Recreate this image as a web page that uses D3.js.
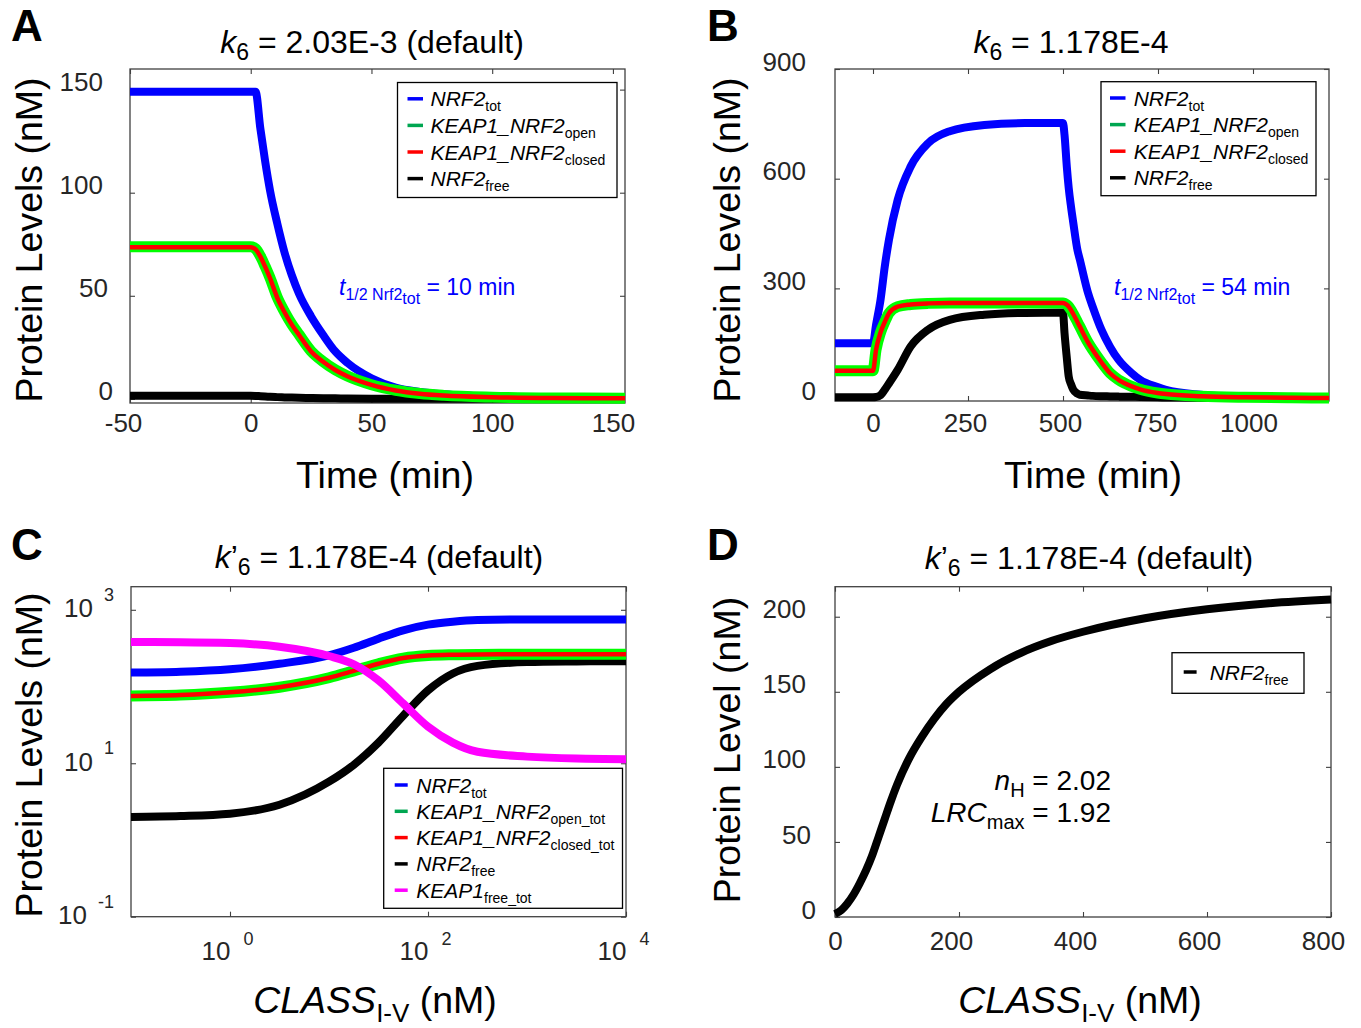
<!DOCTYPE html>
<html>
<head>
<meta charset="utf-8">
<script src="https://cdn.jsdelivr.net/npm/d3@7"></script>
<style>
  body { margin: 0; background: #fff; }
  svg text { font-family: "Liberation Sans", Arial, Helvetica, sans-serif; white-space: pre; }
</style>
</head>
<body>
<script>
// ---------- Panel A: time course, k6 = 2.03E-3 ----------
const timeA      = [-50, 0, 2, 4, 6, 8, 11, 14, 17, 20, 25, 30, 35, 40, 50, 60, 70, 80, 100, 125, 155];
const nrf2TotA   = [149, 149, 149, 131, 115, 101, 85, 71, 60, 51, 40, 31, 23, 17.5, 10, 5.5, 3.4, 2.2, 1.0, 0.5, 0.3];
const openA      = [73.8, 73.8, 72.8, 69.2, 64.2, 58.7, 49.2, 42.2, 36.2, 31.2, 23.2, 18.1, 14.1, 11.1, 6.9, 4.2, 2.6, 1.7, 0.85, 0.45, 0.35];
const closedA    = [73.5, 73.5, 72.5, 69, 64, 58.5, 49, 42, 36, 31, 23, 18, 14, 11, 6.8, 4.1, 2.5, 1.6, 0.8, 0.4, 0.3];
const freeA      = [1.5, 1.5, 1.45, 1.3, 1.15, 1.0, 0.85, 0.72, 0.62, 0.53, 0.42, 0.33, 0.26, 0.2, 0.12, 0.07, 0.04, 0.03, 0.01, 0, 0];
const xTicksA    = [-50, 0, 50, 100, 150];
const yTicksA    = [0, 50, 100, 150];

// ---------- Panel B: time course, k6 = 1.178E-4 ----------
const timeB      = [-100, 0, 8, 20, 31, 42, 65, 99, 145, 202, 293, 400, 500, 504, 510, 515, 521, 527, 538, 544, 566, 578, 601, 624, 646, 681, 703, 749, 771, 863, 977, 1100, 1200];
const nrf2TotB   = [150, 150, 200, 270, 360, 433, 542, 633, 697, 730, 747, 752, 752, 720, 633, 575, 524, 480, 405, 380, 287, 250, 187, 140, 105, 68, 50, 30, 22.7, 9, 3, 1.2, 0.6];
const openB      = [75, 75, 132, 180, 208, 232, 250, 256, 259, 260, 260, 260, 260, 259, 255, 250, 241, 230, 208, 196, 152, 132, 98, 68, 50, 32, 24, 14, 11, 5, 2, 0.8, 0.4];
const closedB    = [75, 75, 132, 180, 208, 232, 250, 256, 259, 260, 260, 260, 260, 259, 255, 250, 241, 230, 208, 196, 152, 132, 98, 68, 50, 32, 24, 14, 11, 5, 2, 0.8, 0.4];
const freeB      = [2.5, 2.5, 3, 8, 23, 40, 77, 141, 187, 214, 228, 233, 234, 178, 110, 59, 38, 23, 12, 9, 7, 6, 5, 4.5, 4, 3.5, 3, 2, 1.8, 1.2, 0.8, 0.5, 0.4];
const xTicksB    = [0, 250, 500, 750, 1000];
const yTicksB    = [0, 300, 600, 900];

// ---------- Panel C: steady state vs CLASS I-V (log-log) ----------
const classC     = [0.1, 0.316, 1, 3.16, 10, 17.8, 31.6, 56.2, 100, 178, 316, 1000, 3162, 10000];
const nrf2TotC   = [152, 156, 168, 198, 255, 320, 420, 540, 640, 700, 735, 748, 750, 750];
const openC      = [75.5, 77.5, 84, 98, 130, 160, 198, 235, 254, 260, 262, 263, 263, 263];
const closedC    = [75.5, 77.5, 84, 98, 130, 160, 198, 235, 254, 260, 262, 263, 263, 263];
const freeC      = [2.0, 2.05, 2.2, 2.88, 5.75, 9.55, 18.6, 41.7, 89, 148, 186, 208, 212, 214];
const keap1C     = [380, 378, 368, 330, 250, 195, 120, 60, 30, 18.6, 14.1, 12.2, 11.5, 11.3];
const xTicksC    = [1, 100, 10000];
const yTicksC    = [0.1, 10, 1000];

// ---------- Panel D: NRF2free vs CLASS I-V (linear) ----------
const classD     = [0, 10, 20, 30, 40, 50, 60, 70, 80, 90, 100, 120, 140, 160, 180, 200, 250, 300, 350, 400, 500, 600, 700, 800];
const freeD      = [2, 4.5, 9, 15, 22.5, 31, 41, 53, 65, 77, 88, 106, 120, 132, 142, 150, 165, 176, 184, 190, 199, 205, 209, 211.5];
const xTicksD    = [0, 200, 400, 600, 800];
const yTicksD    = [0, 50, 100, 150, 200];

// ---------- styling ----------
const C_BLUE = "#0000ff", C_GREEN = "#00ff00", C_RED = "#ff0000", C_BLACK = "#000000", C_MAG = "#ff00ff";
const C_GREEN_KEY = "#00a651";
const AXIS = "#404040", TICK = "#262626";
const LABEL_SIZE = 37.5, TITLE_SIZE = 32;

const svg = d3.select("body").append("svg").attr("width", 1361).attr("height", 1028);

// text built from pieces: italics, subscripts, superscripts
function richText(parent, x, y, parts, opt) {
  const t = parent.append("text").attr("x", x).attr("y", y)
    .attr("font-size", opt.size).attr("fill", opt.fill || "#000")
    .attr("text-anchor", opt.anchor || "start");
  if (opt.transform) t.attr("transform", opt.transform);
  let cur = 0;
  parts.forEach(p => {
    const shift = p.shift || 0;
    const ts = t.append("tspan").attr("dy", shift - cur).text(p.t);
    cur = shift;
    if (p.size) ts.attr("font-size", p.size);
    if (p.it) ts.attr("font-style", "italic");
    if (p.dx) ts.attr("dx", p.dx);
  });
  return t;
}

function styleAxis(sel) {
  sel.select(".domain").remove();
  sel.selectAll(".tick line").attr("stroke", AXIS).attr("stroke-width", 1.1);
  sel.selectAll(".tick text").attr("font-size", 26).attr("fill", TICK)
    .style("font-family", '"Liberation Sans", Arial, Helvetica, sans-serif');
}

// axes box with inward ticks on all four sides
function frameAxes(g, f, x, y, o) {
  const bottom = g.append("g").attr("transform", `translate(0,${f.b})`)
    .call(d3.axisBottom(x).tickValues(o.xTicks).tickSize(-5).tickPadding(0)
      .tickFormat(o.log ? () => "" : d => String(d)));
  styleAxis(bottom);
  if (!o.log) {
    bottom.selectAll(".tick text").attr("dy", null).attr("y", o.xLabY)
      .attr("dx", d => (d < 0 ? -7 : 0) - (String(d).length - 1) * (o.xLabShift || 0));
  }
  const top = g.append("g").attr("transform", `translate(0,${f.t})`)
    .call(d3.axisTop(x).tickValues(o.xTicks).tickSize(-5).tickFormat(() => ""));
  styleAxis(top);
  const left = g.append("g").attr("transform", `translate(${f.l},0)`)
    .call(d3.axisLeft(y).tickValues(o.yTicks).tickSize(-5).tickPadding(0)
      .tickFormat(o.log ? () => "" : d => String(d)));
  styleAxis(left);
  if (!o.log) {
    left.selectAll(".tick text")
      .attr("x", d => -o.yLabGap + (3 - String(d).length) * 5)
      .attr("y", -8).attr("dy", "0.35em");
  }
  const right = g.append("g").attr("transform", `translate(${f.r},0)`)
    .call(d3.axisRight(y).tickValues(o.yTicks).tickSize(-5).tickFormat(() => ""));
  styleAxis(right);

  if (o.log) {
    // power-of-ten labels: "10" with a raised exponent
    left.selectAll(".tick").each(function (d) {
      const e = Math.round(Math.log10(d));
      richText(d3.select(this), -17, 7,
        [{ t: "10" }, { t: String(e), size: 18, shift: -16.5, dx: 11 }],
        { size: 26, anchor: "end", fill: TICK });
    });
    bottom.selectAll(".tick").each(function (d) {
      const e = Math.round(Math.log10(d));
      const tk = d3.select(this);
      tk.append("text").attr("x", 0).attr("y", 43).attr("text-anchor", "end")
        .attr("font-size", 26).attr("fill", TICK).text("10");
      tk.append("text").attr("x", 13).attr("y", 28).attr("text-anchor", "start")
        .attr("font-size", 18).attr("fill", TICK).text(String(e));
    });
  }

  g.append("rect").attr("x", f.l).attr("y", f.t)
    .attr("width", f.r - f.l).attr("height", f.b - f.t)
    .attr("fill", "none").attr("stroke", AXIS).attr("stroke-width", 1.3);
}

function drawSeries(g, xs, x, y, series) {
  series.forEach(s => {
    const line = d3.line().x((d, i) => x(xs[i])).y(d => y(d)).curve(d3.curveMonotoneX);
    g.append("path").datum(s.values).attr("d", line)
      .attr("fill", "none").attr("stroke", s.color).attr("stroke-width", s.width)
      .attr("stroke-linejoin", "round").attr("stroke-linecap", "butt");
  });
}

function legend(g, box, rows, o) {
  g.append("rect").attr("x", box[0]).attr("y", box[1])
    .attr("width", box[2] - box[0]).attr("height", box[3] - box[1])
    .attr("fill", "#fff").attr("stroke", "#000").attr("stroke-width", 1.3);
  rows.forEach((r, i) => {
    const cy = box[1] + o.first + i * o.step;
    g.append("line").attr("x1", box[0] + o.lx0).attr("x2", box[0] + o.lx1)
      .attr("y1", cy).attr("y2", cy).attr("stroke", r.key).attr("stroke-width", 3.5);
    richText(g, box[0] + o.tx, cy + 7.5,
      [{ t: r.name, it: true }, { t: r.sub, size: 14, shift: 5 }], { size: 21 });
  });
}

function panelLetter(letter, x, y) {
  svg.append("text").attr("x", x).attr("y", y).attr("font-size", 44)
    .attr("font-weight", "bold").text(letter);
}

function yTitle(g, text, x, y) {
  g.append("text").attr("transform", `translate(${x},${y}) rotate(-90)`)
    .attr("text-anchor", "middle").attr("font-size", LABEL_SIZE).text(text);
}

function xTitle(g, text, x, y) {
  g.append("text").attr("x", x).attr("y", y).attr("text-anchor", "middle")
    .attr("font-size", LABEL_SIZE).text(text);
}

function classLabel(g, cx, y) {
  richText(g, cx, y, [{ t: "CLASS", it: true }, { t: "I-V", size: 26, shift: 9 }, { t: " (nM)", shift: 0 }],
    { size: LABEL_SIZE, anchor: "middle" });
}

const legendRows4 = [
  { name: "NRF2", sub: "tot", key: C_BLUE },
  { name: "KEAP1_NRF2", sub: "open", key: C_GREEN_KEY },
  { name: "KEAP1_NRF2", sub: "closed", key: C_RED },
  { name: "NRF2", sub: "free", key: C_BLACK }
];

// ---------- A ----------
{
  const f = { l: 130, r: 625, t: 69, b: 403 };
  const x = d3.scaleLinear().domain([-50, 155]).range([f.l, f.r]);
  const y = d3.scaleLinear().domain([-2, 160]).range([f.b, f.t]);
  const g = svg.append("g");
  frameAxes(g, f, x, y, { xTicks: xTicksA, yTicks: yTicksA, xLabY: 29, yLabGap: 27 });
  drawSeries(g, timeA, x, y, [
    { values: freeA, color: C_BLACK, width: 8 },
    { values: nrf2TotA, color: C_BLUE, width: 8 },
    { values: openA, color: C_GREEN, width: 11 },
    { values: closedA, color: C_RED, width: 4.5 }
  ]);
  legend(g, [397.5, 82.5, 617, 197.5], legendRows4, { first: 16.3, step: 26.6, lx0: 10, lx1: 25.5, tx: 33 });
  richText(g, 339, 295, [{ t: "t", it: true }, { t: "1/2 Nrf2", size: 16, shift: 5 }, { t: "tot", size: 16, shift: 9 }, { t: " = 10 min", shift: 0 }],
    { size: 23, fill: C_BLUE });
  richText(g, 372, 53, [{ t: "k", it: true }, { t: "6", size: 23, shift: 7 }, { t: " = 2.03E-3 (default)", shift: 0 }],
    { size: TITLE_SIZE, anchor: "middle" });
  yTitle(g, "Protein Levels (nM)", 42, 240);
  xTitle(g, "Time (min)", 385, 488);
  panelLetter("A", 11, 41);
}

// ---------- B ----------
{
  const f = { l: 835, r: 1329, t: 69, b: 401 };
  const x = d3.scaleLinear().domain([-100, 1200]).range([f.l, f.r]);
  const y = d3.scaleLinear().domain([-8, 900]).range([f.b, f.t]);
  const g = svg.append("g");
  frameAxes(g, f, x, y, { xTicks: xTicksB, yTicks: yTicksB, xLabY: 31, yLabGap: 29, xLabShift: 1.5 });
  drawSeries(g, timeB, x, y, [
    { values: freeB, color: C_BLACK, width: 8 },
    { values: nrf2TotB, color: C_BLUE, width: 8 },
    { values: openB, color: C_GREEN, width: 11 },
    { values: closedB, color: C_RED, width: 4.5 }
  ]);
  legend(g, [1101, 81.7, 1316, 195.7], legendRows4, { first: 16.3, step: 26.6, lx0: 9, lx1: 24.5, tx: 32.7 });
  richText(g, 1114, 295, [{ t: "t", it: true }, { t: "1/2 Nrf2", size: 16, shift: 5 }, { t: "tot", size: 16, shift: 9 }, { t: " = 54 min", shift: 0 }],
    { size: 23, fill: C_BLUE });
  richText(g, 1071, 53, [{ t: "k", it: true }, { t: "6", size: 23, shift: 7 }, { t: " = 1.178E-4", shift: 0 }],
    { size: TITLE_SIZE, anchor: "middle" });
  yTitle(g, "Protein Levels (nM)", 740, 240);
  xTitle(g, "Time (min)", 1093, 488);
  panelLetter("B", 707, 41);
}

// ---------- C ----------
{
  const f = { l: 131, r: 626, t: 586.7, b: 916.7 };
  const x = d3.scaleLog().domain([0.1, 10000]).range([f.l, f.r]);
  const y = d3.scaleLog().domain([0.1, 2000]).range([f.b, f.t]);
  const g = svg.append("g");
  frameAxes(g, f, x, y, { xTicks: xTicksC, yTicks: yTicksC, log: true });
  drawSeries(g, classC, x, y, [
    { values: freeC, color: C_BLACK, width: 8 },
    { values: nrf2TotC, color: C_BLUE, width: 8 },
    { values: openC, color: C_GREEN, width: 11 },
    { values: closedC, color: C_RED, width: 4.5 },
    { values: keap1C, color: C_MAG, width: 8 }
  ]);
  legend(g, [383.7, 768.3, 622.5, 908.3], [
    { name: "NRF2", sub: "tot", key: C_BLUE },
    { name: "KEAP1_NRF2", sub: "open_tot", key: C_GREEN_KEY },
    { name: "KEAP1_NRF2", sub: "closed_tot", key: C_RED },
    { name: "NRF2", sub: "free", key: C_BLACK },
    { name: "KEAP1", sub: "free_tot", key: C_MAG }
  ], { first: 16.7, step: 26.3, lx0: 11, lx1: 24, tx: 32.6 });
  richText(g, 379, 568, [{ t: "k", it: true }, { t: "’" }, { t: "6", size: 23, shift: 7 }, { t: " = 1.178E-4 (default)", shift: 0 }],
    { size: TITLE_SIZE, anchor: "middle" });
  yTitle(g, "Protein Levels (nM)", 42, 755);
  classLabel(g, 375, 1013);
  panelLetter("C", 11, 560);
}

// ---------- D ----------
{
  const f = { l: 835, r: 1331, t: 586.7, b: 917 };
  const x = d3.scaleLinear().domain([0, 800]).range([f.l, f.r]);
  const y = d3.scaleLinear().domain([0, 220]).range([f.b, f.t]);
  const g = svg.append("g");
  frameAxes(g, f, x, y, { xTicks: xTicksD, yTicks: yTicksD, xLabY: 33, yLabGap: 29, xLabShift: 4 });
  drawSeries(g, classD, x, y, [{ values: freeD, color: C_BLACK, width: 8 }]);
  legend(g, [1172, 652.7, 1304, 693.3], [{ name: "NRF2", sub: "free", key: C_BLACK }],
    { first: 19.3, step: 26, lx0: 11.7, lx1: 24.6, tx: 37.7 });
  richText(g, 1111, 790, [{ t: "n", it: true }, { t: "H", size: 20, shift: 7 }, { t: " = 2.02", shift: 0 }],
    { size: 28, anchor: "end" });
  richText(g, 1111, 822, [{ t: "LRC", it: true }, { t: "max", size: 20, shift: 7 }, { t: " = 1.92", shift: 0 }],
    { size: 28, anchor: "end" });
  richText(g, 1089, 569, [{ t: "k", it: true }, { t: "’" }, { t: "6", size: 23, shift: 7 }, { t: " = 1.178E-4 (default)", shift: 0 }],
    { size: TITLE_SIZE, anchor: "middle" });
  yTitle(g, "Protein Level (nM)", 740, 750);
  classLabel(g, 1080, 1013);
  panelLetter("D", 707, 560);
}
</script>
</body>
</html>
